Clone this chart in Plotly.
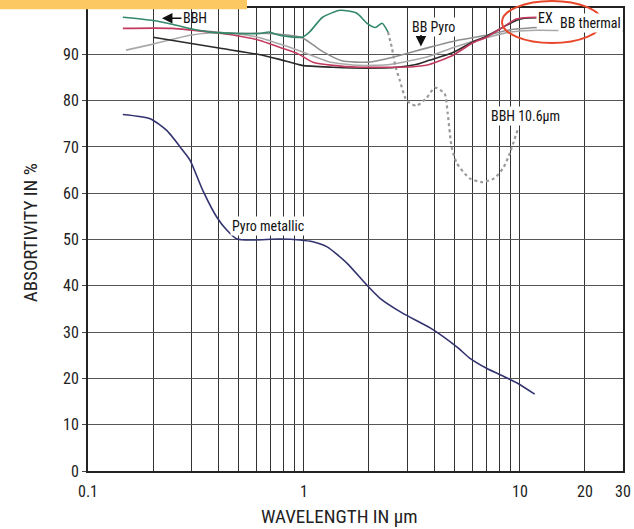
import plotly.graph_objects as go
import math

# ---------------- data (wavelength in µm, absorptivity in %) ----------------
pyro_wl = [0.145, 0.194, 0.232, 0.275, 0.297, 0.34, 0.395, 0.44, 0.49, 0.58, 0.77, 0.96,
           1.1, 1.28, 1.58, 1.95, 2.25, 2.86, 3.84, 5.1, 5.85, 7.0, 8.7, 9.7, 11.7]
pyro_val = [77.0, 76.1, 73.5, 69.2, 67.1, 60.6, 54.8, 52.0, 50.1, 49.9, 50.1, 49.9,
            49.5, 48.4, 44.9, 40.2, 37.3, 34.1, 30.9, 26.8, 24.4, 22.2, 20.1, 19.0, 16.6]

bbh_wl = [0.145, 0.2, 0.245, 0.3, 0.366, 0.49, 0.625, 0.69, 0.77, 0.98, 1.06, 1.22,
          1.47, 1.75, 1.96, 2.14, 2.3, 2.45]
bbh_val = [98.0, 97.3, 96.5, 95.5, 94.8, 94.5, 94.5, 94.8, 94.1, 93.7, 94.8, 98.0,
           99.5, 98.9, 96.7, 95.8, 96.7, 94.8]

bbh106_wl = [2.45, 2.55, 2.65, 2.78, 2.95, 3.1, 3.33, 3.7, 4.04, 4.48, 4.63, 4.83,
             5.1, 5.85, 6.7, 7.6, 8.4, 9.0, 9.8]
bbh106_val = [94.8, 91.5, 87.5, 84.3, 80.5, 79.4, 78.9, 80.6, 82.8, 81.5, 77.2, 69.9,
              66.5, 63.2, 62.4, 63.2, 65.6, 68.8, 74.0]

ex_wl = [0.145, 0.245, 0.366, 0.49, 0.625, 0.77, 0.93, 1.1, 1.36, 1.8, 2.5, 3.2, 3.8,
         4.9, 6.0, 7.0, 8.3, 9.6, 10.5, 12.0]
ex_val = [95.6, 95.6, 94.8, 94.0, 93.0, 91.5, 90.2, 88.3, 87.6, 87.2, 87.2, 87.3, 87.8,
          89.8, 92.4, 93.7, 95.8, 97.6, 97.9, 98.0]

dark_wl = [0.2, 0.296, 0.41, 0.61, 0.77, 0.98, 1.36, 1.96, 2.7, 3.3, 3.8, 4.9, 6.0,
           7.0, 8.7, 9.6, 10.5, 12.0]
dark_val = [93.7, 92.4, 91.3, 90.0, 88.9, 87.6, 87.2, 87.0, 87.2, 87.8, 88.7, 90.4, 92.6,
            93.9, 96.3, 97.3, 97.8, 97.9]

bbpyro_wl = [0.3, 0.45, 0.7, 0.98, 1.2, 1.5, 2.0, 2.6, 3.8, 5.1, 7.0, 9.0, 12.0]
bbpyro_val = [95.3, 94.6, 94.5, 93.6, 90.8, 88.6, 88.3, 89.4, 91.5, 93.0, 94.1, 95.3, 95.8]

bbth_wl = [0.15, 0.2, 0.296, 0.366, 0.45, 0.6, 0.8, 1.0, 1.3, 1.8, 2.5, 3.8, 5.0, 7.0,
           9.0, 10.5, 12.0, 20.0, 33.0]
bbth_val = [90.9, 92.2, 94.1, 94.6, 94.6, 93.8, 92.0, 90.4, 88.4, 87.6, 87.8, 89.6, 91.6,
            93.6, 94.8, 95.1, 95.2, 95.1, 95.0]

x_grid = [0.1, 0.2, 0.3, 0.4, 0.5, 0.6, 0.7, 0.8, 0.9, 1, 2, 3, 4, 5, 6, 7, 8, 9, 10, 20, 30]
x_labels = {0.1: "0.1", 1: "1", 10: "10", 20: "20", 30: "30"}
y_ticks = list(range(0, 101, 10))

FONT = "Liberation Sans Narrow, Arial Narrow, Roboto Condensed, Liberation Sans, sans-serif"

fig = go.Figure()

def line(x, y, color, width=1.6, dash="solid"):
    fig.add_trace(go.Scatter(x=x, y=y, mode="lines", showlegend=False, hoverinfo="skip",
                             line=dict(color=color, width=width, dash=dash, shape="spline",
                                       smoothing=0.6)))

line(bbpyro_wl, bbpyro_val, "#8e8e8e")
line(bbth_wl, bbth_val, "#a9a9a9")
line(bbh106_wl, bbh106_val, "#9a9a9a", width=2.2, dash="dot")
line(dark_wl, dark_val, "#2a2a2a")
line(ex_wl, ex_val, "#c23a5e")
line(bbh_wl, bbh_val, "#33886a")
line(pyro_wl, pyro_val, "#33336f")

fig.update_xaxes(type="log", range=[-1, math.log10(30)], automargin=False,
                 tickvals=x_grid, ticktext=[x_labels.get(v, "") for v in x_grid],
                 showgrid=True, gridcolor="#333333", gridwidth=1,
                 showline=True, linecolor="#222222", linewidth=2, mirror=True,
                 ticks="", ticklabelstandoff=5,
                 tickfont=dict(family=FONT, size=16, color="#222222"))
fig.update_yaxes(range=[0, 100], tickvals=y_ticks, automargin=False,
                 showgrid=True, gridcolor="#555555", gridwidth=1,
                 showline=True, linecolor="#222222", linewidth=2, mirror=True,
                 ticks="outside", ticklen=4, tickcolor="#444444",
                 tickfont=dict(family=FONT, size=16, color="#222222"))

def lab(text, wl, v, **kw):
    d = dict(x=math.log10(wl), y=v, text=text, showarrow=False, bgcolor="white",
             borderpad=1, font=dict(family=FONT, size=14, color="#111111"))
    d.update(kw)
    fig.add_annotation(**d)

# BBH with left arrow
lab("BBH", 0.220, 97.8, showarrow=True, ax=33, ay=0, arrowhead=2, arrowsize=1.4,
    arrowwidth=1.5, arrowcolor="#111111", bgcolor="rgba(0,0,0,0)")
lab("BB Pyro", 3.96, 96.0)
fig.add_annotation(x=math.log10(3.48), y=91.7, text="", showarrow=True, ax=0, ay=-13,
                   arrowhead=2, arrowsize=1.4, arrowwidth=1.5, arrowcolor="#111111")
lab("EX", 13.2, 97.8)
lab("BB thermal", 21.3, 96.7)
lab("BBH 10.6µm", 10.6, 76.6)
lab("Pyro metallic", 0.681, 52.9)

# axis titles
fig.add_annotation(xref="paper", yref="paper", x=-0.108, y=0.514, text="ABSORTIVITY IN %",
                   textangle=-90, showarrow=False, xanchor="center", yanchor="middle",
                   font=dict(family=FONT, size=19, color="#222222"))
fig.add_annotation(xref="paper", yref="paper", x=0.471, y=-0.099, text="WAVELENGTH IN µm",
                   showarrow=False, xanchor="center", yanchor="middle",
                   font=dict(family=FONT, size=19, color="#222222"))

# orange header strip and red highlight ellipse
fig.add_shape(type="rect", xref="paper", yref="paper", x0=-0.1645, x1=0.2972,
              y0=0.9972, y1=1.03, fillcolor="#fcc862", line=dict(width=0), layer="above")
fig.add_shape(type="circle", xref="paper", yref="paper", x0=0.7738, x1=0.9607,
              y0=0.9244, y1=1.0151, line=dict(color="#e8472c", width=2), layer="above")

fig.update_layout(width=634, height=529, margin=dict(l=88, r=11, t=8, b=58, autoexpand=False),
                  paper_bgcolor="white", plot_bgcolor="white")

fig.write_html("out.html")
